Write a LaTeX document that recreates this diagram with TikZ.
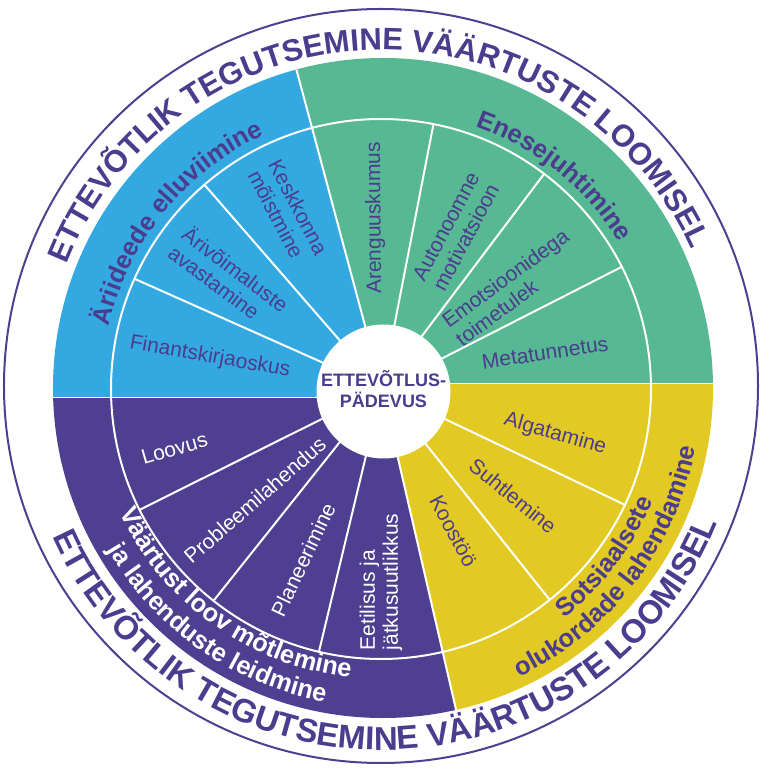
\documentclass[tikz,border=0pt]{standalone}
\usepackage{fontspec}
\setmainfont{Liberation Sans}
\usetikzlibrary{decorations.text}
\definecolor{cblue}{HTML}{34A9E1}
\definecolor{cgreen}{HTML}{57B894}
\definecolor{cyellow}{HTML}{E3C924}
\definecolor{cpurple}{HTML}{4F3F91}
\definecolor{tpurple}{HTML}{4B3C8E}
\newcommand\ttlfont{\bfseries\fontsize{31}{31}\selectfont}
\newcommand\ttlfontb{\bfseries\fontsize{33}{33}\selectfont}
\newcommand\catfont{\bfseries\fontsize{25.5}{25.5}\selectfont}
\tikzset{
  sublabel/.style={font=\fontsize{21}{23}\selectfont, text=tpurple, align=left, inner sep=0pt},
  sublabelw/.style={sublabel, text=white},
  divider/.style={white, line width=2pt},
  arctext/.style={decorate, decoration={text along path, text align=center, text color=#1}},
}
\begin{document}
\begin{tikzpicture}[x=1pt,y=1pt]
\useasboundingbox (-382,-386) rectangle (386,389);
% coloured wheel
\begin{scope}
\clip (1,1) circle (330);
\fill[cblue] (0,0) -- (105:500) -- (-500,500) -- (-500,-8.5) -- (0,-8.5) -- cycle;
\fill[cgreen] (0,0) -- (105:500) -- (500,500) -- (500,5.5) -- (0,5.5) -- cycle;
\fill[cyellow] (0,5.5) -- (500,5.5) -- (500,-500) -- (-77:520) -- (0,0) -- cycle;
\fill[cpurple] (0,-8.5) -- (-500,-8.5) -- (-500,-500) -- (-77:520) -- (0,0) -- cycle;
\draw[white, line width=1pt] (-500,-8.5) -- (0,-8.5);
\draw[white, line width=1pt] (0,5.5) -- (500,5.5);
\draw[divider] (0,0) -- (105:500);
\draw[divider] (0,0) -- (-77:500);
\end{scope}
\draw[divider] (-1,0) circle (270);
\foreach \a in {131,156,27,53,79,-25.5,-51.5,-103.5,-128.5,-153.5}
  \draw[divider] (\a:60) -- (\a:270);
% centre
\fill[white] (1.5,-2.5) circle (67);
\node[font=\bfseries\fontsize{18}{21}\selectfont, text=tpurple, align=center, inner sep=0pt] (core) at (1.5,0) {ETTEVÕTLUS-\\PÄDEVUS};
% outer ring
\draw[cpurple, line width=2pt] (-1,3) circle (377);
% titles
\path[arctext=tpurple, decoration={text={|\ttlfont|ETTEVÕTLIK TEGUTSEMINE VÄÄRTUSTE LOOMISEL}}]
  (170:339) arc[start angle=170, end angle=12.6, radius=339];
\path[arctext=tpurple, decoration={text={|\ttlfontb|ETTEVÕTLIK TEGUTSEMINE VÄÄRTUSTE LOOMISEL}}]
  (198.7:361) arc[start angle=198.7, end angle=343.7, radius=361];
% category labels
\path[arctext=tpurple, decoration={text={|\catfont|Äriideede elluviimine}}]
  (181:280) arc[start angle=181, end angle=101, radius=280];
\path[arctext=tpurple, decoration={text={|\catfont|Enesejuhtimine}}]
  (91:279) arc[start angle=91, end angle=11, radius=279];
\path[arctext=tpurple, decoration={text={|\catfont|Sotsiaalsete}}]
  (-77:293) arc[start angle=-77, end angle=3, radius=293];
\path[arctext=tpurple, decoration={text={|\catfont|olukordade lahendamine}}]
  (-82.5:319) arc[start angle=-82.5, end angle=7.5, radius=319];
\path[arctext=white, decoration={text={|\catfont|Väärtust loov mõtlemine}}]
  (-175.5:290) arc[start angle=-175.5, end angle=-75.5, radius=290];
\path[arctext=white, decoration={text={|\catfont|ja lahenduste leidmine}}]
  (-175:318) arc[start angle=-175, end angle=-75, radius=318];
% sub labels
\node[sublabel, rotate=-62.5] (kesk) at (118:200) {Keskkonna\\mõistmine};
\node[sublabel, rotate=-37] (ari) at (144:189) {Ärivõimaluste\\avastamine};
\node[sublabel, rotate=-10] (fin) at (169.5:175) {Finantskirjaoskus};
\node[sublabel, rotate=90.5] (aren) at (92.3:171) {Arenguuskumus};
\node[sublabel, rotate=62] (auto) at (64.8:174) {Autonoomne\\motivatsioon};
\node[sublabel, rotate=36] (emo) at (38:165) {Emotsioonidega\\toimetulek};
\node[sublabel, rotate=8.5] (meta) at (12.5:167) {Metatunnetus};
\node[sublabel, rotate=-16] (alga) at (-14.6:179) {Algatamine};
\node[sublabel, rotate=-39] (suht) at (-39.2:169) {Suhtlemine};
\node[sublabel, rotate=-62] (koos) at (-63.4:159) {Koostöö};
\node[sublabelw, rotate=90] (eet) at (-90.3:193) {Eetilisus ja\\jätkusuutlikkus};
\node[sublabelw, rotate=64.5] (plan) at (-114.8:188) {Planeerimine};
\node[sublabelw, rotate=41] (prob) at (-138.8:169) {Probleemilahendus};
\node[sublabelw, rotate=16] (loov) at (-164:216) {Loovus};
\end{tikzpicture}
\end{document}
